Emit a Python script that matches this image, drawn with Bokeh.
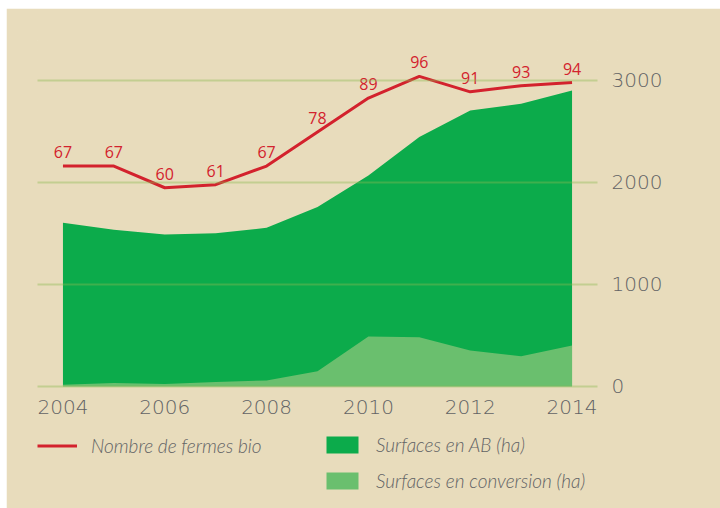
from bokeh.plotting import figure
from bokeh.models import Range1d, FixedTicker, Legend, LegendItem, ColumnDataSource
from bokeh.core.properties import value
from bokeh.embed import file_html
from bokeh.resources import INLINE

# ---- data ----
years = [2004, 2005, 2006, 2007, 2008, 2009, 2010, 2011, 2012, 2013, 2014]
fermes = [67, 67, 60, 61, 67, 78, 89, 96, 91, 93, 94]
surf_total = [1603, 1535, 1489, 1501, 1554, 1757, 2068, 2444, 2706, 2771, 2902]
surf_conversion = [14, 30, 20, 40, 56, 147, 488, 481, 350, 294, 399]
x_ticks = [2004, 2006, 2008, 2010, 2012, 2014]
y_ticks = [0, 1000, 2000, 3000]
fermes_labels = [str(v) for v in fermes]

BG = "#e8dcbc"
RED = "#d3222d"
DARK = "#0cab4b"
LIGHT = "#6abf6e"
GREY = "#626365"
TICK_FONT = "'DejaVu Sans ExtraLight', 'DejaVu Sans Light', 'Lato Light'"
LEG_FONT = "'Lato Light', Lato"

src = ColumnDataSource(dict(x=years, total=surf_total, conv=surf_conversion,
                            fermes=fermes, lab=fermes_labels,
                            zero=[0] * len(years)))

p = figure(width=714, height=500, x_range=Range1d(2003.5, 2014.5),
           y_range=Range1d(-1122, 3392), y_axis_location="right",
           output_backend="svg", toolbar_location=None,
           min_border_left=31, min_border_right=123,
           min_border_top=32, min_border_bottom=8)
p.margin = (8, 0, 0, 6)
p.extra_y_ranges = {"fermes": Range1d(-41.1, 107.6)}

p.background_fill_color = BG
p.border_fill_color = BG
p.outline_line_color = BG

ab = p.varea(x="x", y1="zero", y2="total", source=src, fill_color=DARK)
cv = p.varea(x="x", y1="zero", y2="conv", source=src, fill_color=LIGHT)

ln = p.line(x="x", y="fermes", source=src, y_range_name="fermes",
            line_color=RED, line_width=3)
p.text(x="x", y="fermes", text="lab", source=src, y_range_name="fermes",
       y_offset=-14, text_align="center", text_baseline="alphabetic",
       text_color=RED, text_font=value("Open Sans"), text_font_size="16px")

# grid
p.xgrid.visible = False
p.ygrid.ticker = FixedTicker(ticks=y_ticks)
p.ygrid.grid_line_color = "#8cba4f"
p.ygrid.grid_line_alpha = 0.4
p.ygrid.grid_line_width = 2
p.ygrid.level = "overlay"

# axes
for ax in (p.xaxis[0], p.yaxis[0]):
    ax.axis_line_color = None
    ax.major_tick_line_color = None
    ax.minor_tick_line_color = None
    ax.major_label_text_color = GREY
    ax.major_label_text_font = TICK_FONT
    ax.major_label_text_font_size = "20px"
p.xaxis.ticker = FixedTicker(ticks=x_ticks)
p.xaxis.fixed_location = -42
p.yaxis.ticker = FixedTicker(ticks=y_ticks)
p.xaxis.major_label_standoff = 4
p.yaxis.major_label_standoff = 8


def style(lg):
    lg.background_fill_alpha = 0
    lg.border_line_color = None
    lg.padding = 0
    lg.margin = 0
    lg.glyph_width = 40
    lg.glyph_height = 21
    lg.label_standoff = 14
    lg.spacing = 13
    lg.label_text_font = LEG_FONT
    lg.label_text_font_style = "italic"
    lg.label_text_font_size = "19px"
    lg.label_text_color = GREY


lg1 = Legend(items=[LegendItem(label="Nombre de fermes bio", renderers=[ln])],
             location=(0, 43))
lg2 = Legend(items=[LegendItem(label="Surfaces en AB (ha)", renderers=[ab]),
                    LegendItem(label="Surfaces en conversion (ha)", renderers=[cv])],
             location=(285, 8))
style(lg1)
style(lg2)
p.add_layout(lg1, "center")
p.add_layout(lg2, "center")

open("out.html", "w").write(file_html(p, INLINE))
